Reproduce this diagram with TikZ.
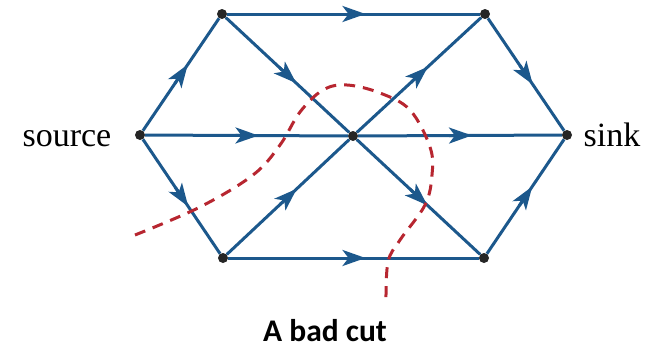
\documentclass[tikz,border=0pt]{standalone}
\usepackage{fontspec}
\setmainfont{Liberation Serif}
\newfontfamily\tagfont{Carlito}
\usetikzlibrary{arrows.meta, positioning, decorations.markings}
\definecolor{flowblue}{RGB}{28,88,140}
\definecolor{cutred}{RGB}{183,38,48}

\begin{document}
\begin{tikzpicture}[
    x=1pt, y=-1pt,
    vertex/.style={circle, fill=black!85, inner sep=0pt, minimum size=10pt},
    lbl/.style={font=\fontsize{34}{40}\selectfont, text height=23pt, text depth=0pt},
    flow/.style={flowblue, line width=3pt,
                 decoration={markings, mark=at position 0.5 with
                   {\draw[-{Stealth[length=23pt, width=16pt, inset=6pt]}, flowblue, line width=3pt] (-11pt,0) -- (12pt,0);}},
                 postaction=decorate},
    cut/.style={cutred, line width=3pt, dash pattern=on 11pt off 8pt}
  ]
  \useasboundingbox (0,0) rectangle (648,348);

  \node[vertex] (src) at (140,135) {};
  \node[vertex] (tl) at (222,14) {};
  \node[vertex] (tr) at (485,14) {};
  \node[vertex] (mid) at (353,136) {};
  \node[vertex] (bl) at (223,258) {};
  \node[vertex] (br) at (484,258) {};
  \node[vertex] (snk) at (567,135) {};

  \node[lbl, left=20pt of src] (srclbl) {source};
  \node[lbl, right=8pt of snk] (snklbl) {sink};

  \draw[flow] (src) -- (tl);
  \draw[flow] (src) -- (mid);
  \draw[flow] (src) -- (bl);
  \draw[flow] (tl) -- (tr);
  \draw[flow] (tl) -- (mid);
  \draw[flow] (mid) -- (tr);
  \draw[flow] (mid) -- (snk);
  \draw[flow] (mid) -- (br);
  \draw[flow] (bl) -- (mid);
  \draw[flow] (bl) -- (br);
  \draw[flow] (tr) -- (snk);
  \draw[flow] (br) -- (snk);

  \draw[cut] plot[smooth, tension=0.6] coordinates {(135,235) (200,207) (253,175) (280,145)
    (300,112) (323,90) (347,85) (380,93) (410,110) (430,147) (432,175) (425,205)
    (400,240) (388,262) (386,302)};

  \node[font=\tagfont\fontsize{31.5}{36}\selectfont\bfseries, inner sep=1pt, text height=22pt, text depth=0pt] (caption) at (325,330) {A bad cut};

\end{tikzpicture}
\end{document}
